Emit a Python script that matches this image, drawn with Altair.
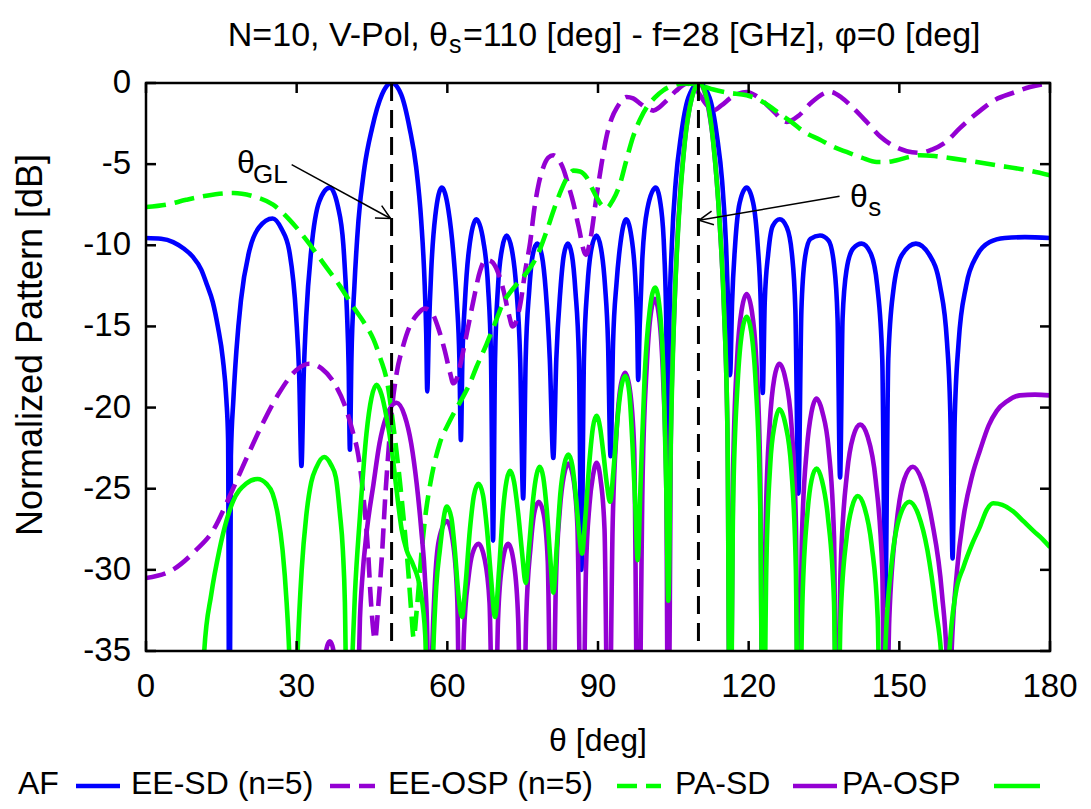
import altair as alt
import pandas as pd

# ---------------- data (theta [deg], normalized pattern [dB]) ----------------
af_points = [
    (0, -9.55), (3, -9.6), (5.4, -9.8), (7.5, -10.2), (9.3, -10.7), (11, -11.5), (12.1, -12.4),
    (13.3, -13.5), (14.3, -15), (15.3, -17), (16.0, -19.5), (16.35, -22), (16.6, -45), (16.9, -23),
    (17.4, -19.5), (18, -16.5), (18.9, -13.4),
    (20.6, -10.3), (22.5, -8.9), (25.2, -8.35), (27, -9.0), (28.5, -10.3), (29.9, -14.4), (30.5, -18),
    (30.95, -23.6), (31.4, -18), (31.9, -14.4), (32.9, -10.3), (34.5, -7.3), (36.6, -6.45), (38.2, -7.6),
    (39.3, -10), (40.0, -14), (40.35, -17.5), (40.6, -22.6), (40.9, -17), (41.5, -12.5), (42.3, -8.5),
    (43.5, -5.2), (45, -2.8), (47, -0.7), (48.9, 0), (50.8, -0.7), (52.5, -2.8), (53.8, -5.2),
    (54.8, -8.5), (55.5, -12.5), (55.8, -15.5), (56.0, -19), (56.3, -15.5), (56.8, -11.5), (57.6, -8.2),
    (58.9, -6.45), (60.2, -7.8), (61.2, -10.5), (61.9, -13.5), (62.4, -17), (62.7, -22), (63.0, -17),
    (63.5, -13.5), (64.3, -10.3), (65.8, -8.4), (67.2, -9.8), (68.1, -12.5), (68.7, -17), (69.1, -28.2),
    (69.5, -17), (70.1, -12.5), (70.9, -10.2), (71.8, -9.4), (72.8, -10.2), (73.7, -12.5), (74.5, -17),
    (75.1, -25.6), (75.6, -17), (76.3, -12.8), (77.0, -10.6), (77.9, -9.9), (78.8, -10.6), (79.6, -12.8),
    (80.4, -17), (81.1, -23.1), (81.7, -17), (82.5, -12.8), (83.2, -10.6), (84.0, -9.9), (84.8, -10.6),
    (85.5, -12.8), (86.2, -17), (86.7, -30), (87.2, -17), (87.9, -12.5), (88.7, -10.2), (89.7, -9.4),
    (90.6, -10.2), (91.4, -12.5), (92.0, -16), (92.5, -23), (93.0, -16), (93.7, -12.3), (94.5, -9.8),
    (95.6, -8.4), (96.8, -9.8), (97.5, -12.5), (97.8, -15), (98.0, -18.3), (98.3, -15), (98.8, -11),
    (99.8, -7.8), (101.5, -6.45), (102.6, -7.8), (103.2, -10.5), (103.6, -15), (103.9, -30), (104.2, -15),
    (104.7, -10), (105.5, -6), (106.5, -3.3), (108, -0.9), (110.1, 0), (112.2, -0.9), (113.7, -3.3),
    (114.7, -6), (115.5, -10), (115.9, -13.5), (116.3, -18), (116.7, -13.5), (117.3, -10), (118.2, -7.4),
    (119.6, -6.45), (120.9, -7.4), (121.8, -10), (122.4, -13.5), (122.8, -19.1), (123.2, -13.5),
    (123.9, -10.5), (124.8, -8.8), (126.2, -8.4), (127.6, -8.9), (128.6, -10.5), (129.3, -14),
    (129.9, -25.3), (130.5, -14), (131.2, -10.8), (132.3, -9.6), (134.2, -9.4), (135.9, -9.7),
    (137.0, -11.2), (137.7, -14.5), (138.2, -24.3), (138.7, -14.5), (139.5, -11.5), (140.8, -10.2),
    (142.5, -9.9), (144.3, -10.5), (145.6, -12.5), (146.6, -17), (147.2, -32.2), (147.8, -17),
    (148.8, -12.8), (150.5, -10.6), (153.3, -9.9), (156.0, -10.6), (158.1, -12.5), (159.5, -16),
    (160.2, -21), (160.6, -29.3), (161.0, -21), (161.8, -16), (163.3, -12.5), (165.5, -10.6),
    (168, -9.8), (171, -9.55), (175, -9.5), (180, -9.55),
]

ee_sd_points = [
    (0, -30.5), (5.3, -30.0), (9.9, -28.8), (13.3, -27.6), (16.6, -25.5), (19.9, -23.2), (23.2, -21.0),
    (26.5, -19.1), (29.9, -17.7), (32.5, -17.3), (35, -17.6), (37.5, -18.5), (39.5, -19.8), (41, -21.3),
    (42.3, -23), (43.3, -25.5), (44.2, -28.8), (44.8, -32), (45.6, -34.3), (46.3, -32), (47.0, -29),
    (47.6, -25.7), (48.3, -22.6), (49.0, -20.0), (49.9, -17.9), (51.2, -16.2), (52.5, -15.0),
    (53.9, -14.3), (55.5, -13.9), (57, -14.2), (58.3, -15.2), (59.5, -16.5), (60.5, -17.8), (61.2, -18.5),
    (61.9, -18.2), (62.7, -17.2), (63.9, -15.4), (65.2, -13.4), (66.5, -11.6), (67.6, -10.9),
    (68.8, -11.0), (70.0, -11.6), (71.2, -12.8), (72.2, -14.2), (73.0, -15.0), (73.8, -14.6),
    (74.6, -13.5), (75.5, -11.6), (76.5, -9.8), (77.3, -7.8), (78.2, -6.2), (79.1, -5.2), (80.1, -4.6),
    (81.1, -4.45), (82.1, -4.7), (83.1, -5.3), (84.1, -6.3), (85.1, -7.4), (86.1, -8.8), (87.6, -10.6),
    (88.5, -9.6), (89.7, -7.0), (90.7, -5.0), (91.7, -3.3), (92.7, -2.2), (93.8, -1.5), (95.7, -0.86),
    (97, -0.95), (98.4, -1.27), (100, -1.6), (101, -1.7), (102.2, -1.5), (103.7, -1.07), (105.5, -0.5),
    (107.7, -0.05), (108.8, -0.1), (110.2, -0.7), (111.5, -1.3), (112.9, -1.7), (114.5, -1.4),
    (116.5, -0.9), (119.6, -0.55), (122, -0.9), (124.5, -1.6), (127.6, -2.4), (130, -2.0), (132.5, -1.2),
    (136.2, -0.55), (138.5, -0.9), (141, -1.6), (143.5, -2.4), (146.2, -3.3), (149, -3.9), (151.5, -4.2),
    (154.1, -4.3), (156.5, -4.1), (159.4, -3.6), (162, -2.8), (166.1, -1.7), (169, -1.05), (172.7, -0.6),
    (176, -0.25), (180, 0),
]

ee_osp_points = [
    (0, -7.64), (4, -7.5), (8, -7.2), (12, -6.95), (17.4, -6.78), (21, -6.95), (25.3, -7.5), (28.5, -8.4),
    (32, -9.7), (35.3, -11.1), (38.6, -12.5), (41.5, -13.9), (43.5, -14.8), (45.3, -15.8), (46.7, -17.0),
    (48.0, -18.4), (49.2, -21.0), (50.6, -24.7), (51.5, -27.5), (52.2, -30), (52.8, -32.5), (53.3, -34.2),
    (53.9, -32.5), (54.9, -28.8), (55.7, -26.5), (56.6, -24.7), (58.5, -22.2), (60.2, -21.0),
    (61.9, -20.0), (63.2, -19.3), (64.5, -18.5), (65.8, -17.5), (67.8, -16.1), (69.5, -14.8),
    (71.2, -13.5), (72.5, -12.9), (73.8, -12.4), (75.5, -11.8), (77.1, -11.1), (78.5, -10.2),
    (79.8, -9.1), (81.1, -7.9), (82.4, -6.8), (83.7, -5.9), (85.1, -5.4), (86.4, -5.45), (87.7, -5.8),
    (89.0, -6.6), (90.4, -7.4), (91.7, -7.7), (93.0, -7.2), (94.4, -6.2), (95.7, -4.7), (97.0, -3.3),
    (98.3, -2.3), (99.7, -1.5), (101.3, -0.9), (103, -0.45), (105, -0.15), (107, -0.03), (108.5, -0.05),
    (110.3, -0.14), (113, -0.4), (116, -0.6), (119.6, -0.76), (121.5, -0.95), (124, -1.4), (126.2, -1.9),
    (128.5, -2.4), (131, -3.0), (134.2, -3.5), (137, -3.95), (139.5, -4.25), (142.5, -4.6), (145.5, -4.87),
    (147.5, -4.87), (149.5, -4.76), (152, -4.55), (154.1, -4.45), (157, -4.5), (160.8, -4.66),
    (165, -4.85), (169.4, -5.07), (175, -5.35), (180, -5.69),
]

pa_sd_points = [
    (0, -45), (30, -45), (34.5, -40), (35.6, -35.5), (36.6, -34.4), (37.6, -35.5), (38.6, -40), (41, -45),
    (42.2, -38), (42.6, -33), (43.0, -30.8), (44.0, -27.5), (45.3, -24.7), (46.5, -22.2), (47.8, -20.6),
    (49.9, -19.7), (51.5, -20.5), (52.8, -22.2), (53.9, -24.7), (54.8, -27.5), (55.6, -30.8), (56.0, -34),
    (56.4, -45), (56.9, -36), (57.5, -31), (58.3, -28.2), (59.9, -27.0), (61.2, -28.5), (62.0, -32),
    (62.6, -45), (63.3, -34), (64.2, -30.5), (65.0, -29), (66.2, -28.4), (67.4, -29.3), (68.4, -32),
    (69.3, -45), (70.1, -33), (70.9, -29.7), (72.1, -28.4), (73.3, -29.7), (74.1, -33), (74.9, -45),
    (75.7, -33), (76.6, -28.5), (77.3, -26.5), (78.2, -25.8), (79.2, -26.6), (80.0, -29.5), (80.8, -45),
    (81.6, -31), (82.4, -26.3), (83.2, -24.2), (84.1, -23.45), (85.0, -24.2), (85.9, -27.3), (86.8, -45),
    (87.6, -30), (88.3, -26), (89.0, -24.2), (89.7, -23.4), (90.5, -24.4), (91.3, -27.5), (92.1, -45),
    (92.9, -27.5), (93.7, -21.5), (94.5, -18.7), (95.4, -17.85), (96.3, -18.8), (97.2, -22.5), (98.0, -45),
    (98.9, -24), (99.7, -17.5), (100.4, -14.5), (101.3, -13.3), (102.2, -14.5), (103.0, -18.5),
    (103.6, -25), (104.0, -45), (104.5, -22), (105.2, -14), (106.0, -8.5), (107.2, -3.8), (108.6, -1.0),
    (110.1, 0), (111.6, -1.0), (113.0, -3.8), (114.2, -8.5), (115.1, -14), (115.8, -22), (116.3, -45),
    (116.9, -24), (117.7, -17), (118.6, -14.0), (119.6, -13.0), (120.6, -14.0), (121.5, -17), (122.3, -24),
    (122.8, -45), (123.4, -27), (124.2, -21), (125.1, -18.2), (126.1, -17.3), (127.3, -18.2), (128.5, -21),
    (129.4, -27), (129.9, -45), (130.6, -28), (131.6, -22.5), (132.5, -20.3), (133.5, -19.45),
    (134.7, -20.3), (135.9, -22.5), (137.0, -28), (137.5, -45), (138.3, -30), (139.6, -24), (140.8, -21.8),
    (142.2, -21.05), (143.7, -21.8), (145.3, -24.5), (146.6, -30), (147.2, -45), (148.0, -33), (149.5, -27),
    (151, -24.4), (152.7, -23.65), (154.5, -24.5), (156.5, -27), (158.5, -31.5), (159.5, -36), (159.8, -45),
    (160.3, -36), (161.5, -30), (162.8, -26.7), (164.5, -24.2), (166.1, -22.6), (167.8, -21.1),
    (169.4, -20.2), (171.5, -19.6), (174, -19.25), (177, -19.2), (180, -19.25),
]

pa_osp_points = [
    (0, -45), (10.5, -45), (11.6, -35), (13.0, -31.5), (14.6, -28.8), (16.0, -27.0), (17.3, -25.8),
    (19.9, -24.7), (22.2, -24.4), (24.0, -24.7), (25.2, -25.3), (26.3, -26.7), (27.2, -28.8), (28.0, -32),
    (28.5, -35), (29.3, -45), (30.2, -35), (31.0, -30), (31.9, -26.7), (32.9, -24.6), (33.9, -23.7),
    (35.5, -23.05), (36.8, -23.5), (37.8, -24.3), (38.6, -26.5), (39.2, -28.8), (39.6, -32), (40.2, -45),
    (41.0, -36), (41.6, -31.5), (42.6, -26.7), (43.9, -21.6), (44.9, -19.4), (45.9, -18.6), (46.9, -19.2),
    (47.9, -20.6), (48.9, -22.5), (49.9, -25.1), (50.9, -27.5), (51.9, -28.8), (53.2, -29.7),
    (54.6, -31.2), (55.6, -34), (56.4, -45), (57.2, -35), (57.8, -31), (58.5, -28.8), (59.9, -26.1),
    (60.8, -26.8), (61.5, -28.8), (62.2, -31.5), (62.9, -32.9), (63.6, -31), (64.5, -27.5), (65.3, -25.4),
    (66.2, -24.7), (67.1, -25.4), (67.9, -27.5), (68.7, -30.5), (69.5, -32.9), (70.3, -30), (71.1, -26.3),
    (71.8, -24.5), (72.5, -23.9), (73.3, -24.6), (74.1, -26.5), (74.9, -29), (75.6, -30.8), (76.3, -28.5),
    (77.1, -25.6), (77.8, -24.1), (78.4, -23.65), (79.1, -24.3), (79.8, -26.3), (80.5, -29.3),
    (81.1, -31.4), (81.8, -28.5), (82.5, -25.3), (83.3, -23.5), (84.1, -22.9), (84.9, -23.6), (85.6, -25.5),
    (86.2, -27.6), (86.8, -29.0), (87.5, -26.7), (88.3, -23.3), (89.0, -21.2), (89.7, -20.5), (90.4, -21.2),
    (91.1, -22.9), (91.8, -24.8), (92.4, -25.8), (93.1, -23.8), (93.8, -21), (94.6, -18.8), (95.4, -18.05),
    (96.2, -19), (96.9, -22.5), (97.5, -26.5), (97.9, -29.4), (98.5, -24.5), (99.3, -18), (100.3, -14),
    (101.4, -12.6), (102.4, -14.3), (103.1, -18.5), (103.6, -25), (104.0, -31.9), (104.5, -22),
    (105.2, -14), (106.1, -8.3), (107.3, -3.6), (108.7, -0.9), (110.2, 0), (111.7, -1.0), (113.0, -3.8),
    (114.2, -8.5), (115.1, -14), (115.8, -22), (116.3, -45), (116.9, -26), (117.8, -18.5), (118.7, -15.3),
    (119.6, -14.4), (120.5, -15.3), (121.4, -18.5), (122.3, -26), (122.9, -45), (123.5, -30), (124.3, -23.5),
    (125.2, -21), (126.1, -20.1), (127.3, -21), (128.5, -23.8), (129.4, -30), (129.9, -45), (130.7, -32),
    (131.7, -26.5), (132.5, -24.5), (133.5, -23.75), (134.6, -24.5), (135.8, -26.8), (137.0, -32),
    (137.5, -45), (138.3, -33), (139.5, -28), (140.6, -26.1), (141.7, -25.45), (143, -26.1), (144.5, -28.5),
    (145.7, -33), (146.4, -45), (147.2, -35), (148.5, -29.5), (150.2, -26.6), (152.0, -25.8),
    (153.8, -26.6), (155.6, -28.8), (157.3, -32.5), (158.5, -36), (159.1, -45), (159.8, -36),
    (161.2, -31.5), (162.8, -29.8), (164.5, -28.4), (166.1, -27.3), (167.4, -26.3), (168.7, -25.9),
    (170.5, -26.0), (172.7, -26.4), (174.7, -27.0), (176.7, -27.6), (178.5, -28.1), (180, -28.6),
]

marker_theta = [48.9, 110]          # theta_GL and theta_s
x_tick_values = [0, 30, 60, 90, 120, 150, 180]
y_tick_values = [-35, -30, -25, -20, -15, -10, -5, 0]
legend_labels = ["AF", "EE-SD (n=5)", "EE-OSP (n=5)", "PA-SD", "PA-OSP"]
title_parts = ["N=10, V-Pol, \u03b8", "s", "=110 [deg] - f=28 [GHz], \u03c6=0 [deg]"]

# ---------------- layout / style ----------------
W, H = 904, 568
FONT = "Liberation Sans"
BLUE, PURPLE, GREEN = "#0000ff", "#9400d3", "#00ff00"
DASH = [20, 9]
LW = 4.6
xs = alt.Scale(domain=[0, 180], nice=False, zero=False)
ys = alt.Scale(domain=[-35, 0], nice=False, zero=False)


def curve(points, color, dash=None):
    df = pd.DataFrame(points, columns=["theta", "db"])
    props = dict(clip=True, interpolate="monotone", strokeWidth=LW, color=color,
                 strokeCap="butt", strokeJoin="round")
    if dash:
        props["strokeDash"] = dash
    return alt.Chart(df).mark_line(**props).encode(
        x=alt.X("theta:Q", scale=xs, axis=None),
        y=alt.Y("db:Q", scale=ys, axis=None),
    )


def text_px(label, x, y, size=32, align="left", baseline="alphabetic", angle=0):
    kw = dict(font=FONT, fontSize=size, align=align, baseline=baseline, color="black")
    if angle:
        kw["angle"] = angle
    return alt.Chart(pd.DataFrame({"t": [label]})).mark_text(**kw).encode(
        x=alt.value(x), y=alt.value(y), text="t:N")


def text_data(label, theta, db, size=32):
    return alt.Chart(pd.DataFrame({"t": [label], "a": [theta], "b": [db]})).mark_text(
        font=FONT, fontSize=size, align="left", baseline="alphabetic", color="black").encode(
        x=alt.X("a:Q", scale=xs, axis=None), y=alt.Y("b:Q", scale=ys, axis=None), text="t:N")


layers = []
layers.append(curve(af_points, BLUE))
layers.append(curve(ee_sd_points, PURPLE, DASH))
layers.append(curve(ee_osp_points, GREEN, DASH))
layers.append(curve(pa_sd_points, PURPLE))
layers.append(curve(pa_osp_points, GREEN))

# vertical dashed markers
layers.append(alt.Chart(pd.DataFrame({"m": marker_theta})).mark_rule(
    color="black", strokeWidth=3, strokeDash=[18, 9]).encode(
    x=alt.X("m:Q", scale=xs, axis=None), y=alt.value(0), y2=alt.value(H)))

# ticks (inward, mirrored) and tick labels
xt = pd.DataFrame({"v": x_tick_values, "lab": [str(v) for v in x_tick_values]})
yt = pd.DataFrame({"v": y_tick_values, "lab": [str(v) for v in y_tick_values]})
for y1, y2 in [(H, H - 10), (0, 10)]:
    layers.append(alt.Chart(xt).mark_rule(color="black", strokeWidth=2.5).encode(
        x=alt.X("v:Q", scale=xs, axis=None), y=alt.value(y1), y2=alt.value(y2)))
for x1, x2 in [(0, 10), (W, W - 10)]:
    layers.append(alt.Chart(yt).mark_rule(color="black", strokeWidth=2.5).encode(
        y=alt.Y("v:Q", scale=ys, axis=None), x=alt.value(x1), x2=alt.value(x2)))
layers.append(alt.Chart(xt).mark_text(font=FONT, fontSize=33, align="center",
                                      baseline="alphabetic", color="black").encode(
    x=alt.X("v:Q", scale=xs, axis=None), y=alt.value(H + 46), text="lab:N"))
layers.append(alt.Chart(yt).mark_text(font=FONT, fontSize=33, align="right",
                                      baseline="middle", color="black").encode(
    y=alt.Y("v:Q", scale=ys, axis=None), x=alt.value(-15), text="lab:N"))

# border
layers.append(alt.Chart(pd.DataFrame({"t": [""]})).mark_rect(
    fillOpacity=0, stroke="black", strokeWidth=2.5).encode(
    x=alt.value(0), x2=alt.value(W), y=alt.value(0), y2=alt.value(H)))

# annotations: theta_GL and theta_s with arrows
arrows = pd.DataFrame({"a": [29.0, 138.1], "b": [-5.03, -6.98], "a2": [48.7, 110.1], "b2": [-8.35, -8.46]})
layers.append(alt.Chart(arrows).mark_rule(color="black", strokeWidth=1.5).encode(
    x=alt.X("a:Q", scale=xs, axis=None), y=alt.Y("b:Q", scale=ys, axis=None),
    x2="a2:Q", y2="b2:Q"))
layers.append(alt.Chart(pd.DataFrame({"a": [48.7], "b": [-8.35]})).mark_point(
    shape="M-1,-0.5L0,0L-1,0.5", filled=False, size=784, angle=28.7, color="black",
    strokeWidth=1.5, opacity=1).encode(
    x=alt.X("a:Q", scale=xs, axis=None), y=alt.Y("b:Q", scale=ys, axis=None)))
layers.append(alt.Chart(pd.DataFrame({"a": [110.1], "b": [-8.46]})).mark_point(
    shape="M-1,-0.5L0,0L-1,0.5", filled=False, size=784, angle=170.3, color="black",
    strokeWidth=1.5, opacity=1).encode(
    x=alt.X("a:Q", scale=xs, axis=None), y=alt.Y("b:Q", scale=ys, axis=None)))
layers.append(text_data("\u03b8", 18.1, -5.56, 32))
layers.append(text_data("GL", 21.3, -6.15, 26))
layers.append(text_data("\u03b8", 140.2, -7.66, 32))
layers.append(text_data("s", 143.8, -8.2, 26))

# title (with subscript)
layers.append(text_px(title_parts[0], 302, -37, 34, align="right"))
layers.append(text_px(title_parts[1], 303, -30, 25))
layers.append(text_px(title_parts[2], 317, -37, 34))

# axis titles
layers.append(text_px("\u03b8 [deg]", W / 2, 668, 32, align="center"))
layers.append(text_px("Normalized Pattern [dB]", -104, H / 2 - 22, 36, align="center",
                      baseline="alphabetic", angle=270))

# legend (label followed by sample line)
LY = 703
label_x = [-128, -15, 242, 529, 696]
sample_x = [(-70, -26), (184, 229), (471, 515), (647, 691), (848, 894)]
sample_style = [(BLUE, None), (PURPLE, DASH), (GREEN, DASH), (PURPLE, None), (GREEN, None)]
for lab, lx, (s1, s2), (col, dsh) in zip(legend_labels, label_x, sample_x, sample_style):
    layers.append(text_px(lab, lx, LY + 8, 32))
    kw = dict(color=col, strokeWidth=LW)
    if dsh:
        kw["strokeDash"] = dsh
    layers.append(alt.Chart(pd.DataFrame({"t": [lab]})).mark_rule(**kw).encode(
        x=alt.value(s1), x2=alt.value(s2), y=alt.value(LY)))

chart = alt.layer(*layers).properties(
    width=W, height=H,
    autosize=alt.AutoSizeParams(type="none"),
    padding={"left": 138, "top": 75, "right": 32, "bottom": 150},
    background="white",
).configure_view(strokeWidth=0)

chart.save("out.html", embed_options={"renderer": "svg", "actions": False})
